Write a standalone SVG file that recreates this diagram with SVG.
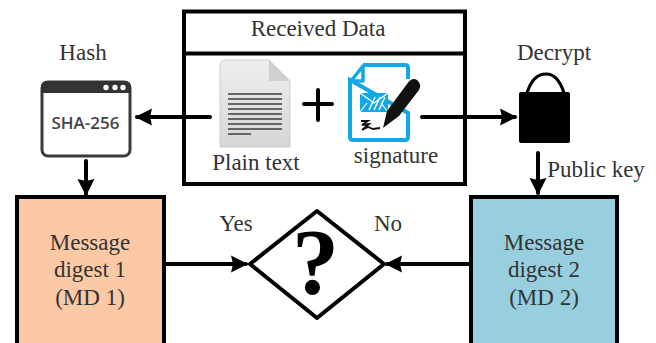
<svg xmlns="http://www.w3.org/2000/svg" width="656" height="343" viewBox="0 0 656 343">
<defs>
<linearGradient id="doc" x1="0" y1="0" x2="0" y2="1"><stop offset="0" stop-color="#eeeeee"/><stop offset="1" stop-color="#d6d6d6"/></linearGradient>
<marker id="arrow" markerUnits="userSpaceOnUse" markerWidth="18" markerHeight="18" refX="15" refY="9" orient="auto"><path d="M0 0.500L17 9L0 17.500L2 9Z" fill="#000"/></marker>
</defs>
<style>
text{font-family:"Liberation Serif","Times New Roman",serif;fill:#333;font-size:23px;text-anchor:middle}
.c{fill:none;stroke:#000;stroke-width:4;stroke-linecap:round}
.b{stroke:#000;stroke-width:4}
</style>
<rect width="656" height="343" fill="#fff"/>
<g id="received-data">
<rect class="b" x="184" y="11.500" width="281" height="172.500" fill="#fff"/>
<line class="b" x1="184" y1="53.500" x2="465" y2="53.500"/>
<text x="318" y="36">Received Data</text>
</g>
<g id="plain-text">
<path d="M226 60H269L290 81V147H220V66Q220 60 226 60Z" fill="url(#doc)" stroke="#ccc"/>
<path d="M269 60L290 81H269Z" fill="#d0d0d0"/>
<path d="M228 94H282M228 99H282M228 104H282M228 109H282M228 114H282M228 119H282M228 124H282M228 129H282M228 134H251" stroke="#666" stroke-width="2.200" fill="none"/>
<text x="256" y="170">Plain text</text>
</g>
<g id="plus"><path class="c" d="M304 104H332M318 90V120"/></g>
<g id="signature">
<path d="M363 65H405Q408 65 408 68V79M408 113V137Q408 140 405 140H353Q350 140 350 137V80Z" fill="#fff" stroke="#10a8e6" stroke-width="4"/>
<path d="M363 66V81H351Z" fill="#fff" stroke="#10a8e6" stroke-width="3.500" stroke-linejoin="round"/>
<path d="M360 93H388V112H360Z" fill="#10a8e6"/>
<path d="M360 93L374 103L388 93M360 112L367 103M388 112L381 103" fill="none" stroke="#fff" stroke-width="1.200"/>
<path d="M369 110L375 97M374 110L380 97M379 110L385 97" fill="none" stroke="#fff" stroke-width="1.500"/>
<path d="M383 128L387 111L407 84Q412 77 417 80Q422 84 419 90L399 116Z" fill="#111"/>
<path d="M361 121H368L362 125L369 124L362 130L368 127L373 129L380 128" fill="none" stroke="#111" stroke-width="1.800"/>
<text x="396" y="163">signature</text>
</g>
<g id="hash">
<text x="83" y="60">Hash</text>
<rect x="42" y="82" width="88" height="74" rx="6" fill="#fff" stroke="#3a3a3a" stroke-width="3"/>
<path d="M41 93V87Q41 81 47 81H125Q131 81 131 87V93Z" fill="#333"/>
<circle cx="106" cy="87.500" r="2.700" fill="#fff"/><circle cx="115" cy="87.500" r="2.700" fill="#fff"/><circle cx="123" cy="87.500" r="2.700" fill="#fff"/>
<text x="85.500" y="129" style="font-family:'Open Sans','Liberation Sans',sans-serif;font-weight:600;font-size:17px;fill:#444;text-anchor:middle">SHA-256</text>
</g>
<g id="decrypt">
<text x="554" y="60">Decrypt</text>
<path d="M527 93Q533 74 546 74Q558 74 564 93" fill="none" stroke="#000" stroke-width="3.200"/>
<rect x="519" y="92" width="51" height="51" rx="2" fill="#000"/>
</g>
<g id="md1">
<rect class="b" x="17" y="197" width="147" height="148" fill="#fbc9a5"/>
<text x="90" y="250">Message</text><text x="90" y="277">digest 1</text><text x="90" y="305">(MD 1)</text>
</g>
<g id="md2">
<rect class="b" x="471" y="197" width="146" height="148" fill="#97cfdf"/>
<text x="544" y="250">Message</text><text x="544" y="277">digest 2</text><text x="544" y="305">(MD 2)</text>
</g>
<g id="decision">
<path d="M317 211L384 264L317 318L250 264Z" fill="#fff" stroke="#000" stroke-width="4" stroke-linejoin="round"/>
<text x="315.500" y="293" style="font-family:'Liberation Serif',serif;font-weight:700;font-size:94px;fill:#000;text-anchor:middle">?</text>
</g>
<g id="connectors">
<path class="c" d="M210 117H137" marker-end="url(#arrow)"/>
<path class="c" d="M422 117H515" marker-end="url(#arrow)"/>
<path class="c" d="M86 161V194" marker-end="url(#arrow)"/>
<path class="c" d="M538 153V193" marker-end="url(#arrow)"/>
<path class="c" d="M166 264H246" marker-end="url(#arrow)"/>
<path class="c" d="M469 264H387" marker-end="url(#arrow)"/>
</g>
<text x="596" y="177">Public key</text>
<text x="236" y="231">Yes</text>
<text x="388" y="231">No</text>
</svg>
